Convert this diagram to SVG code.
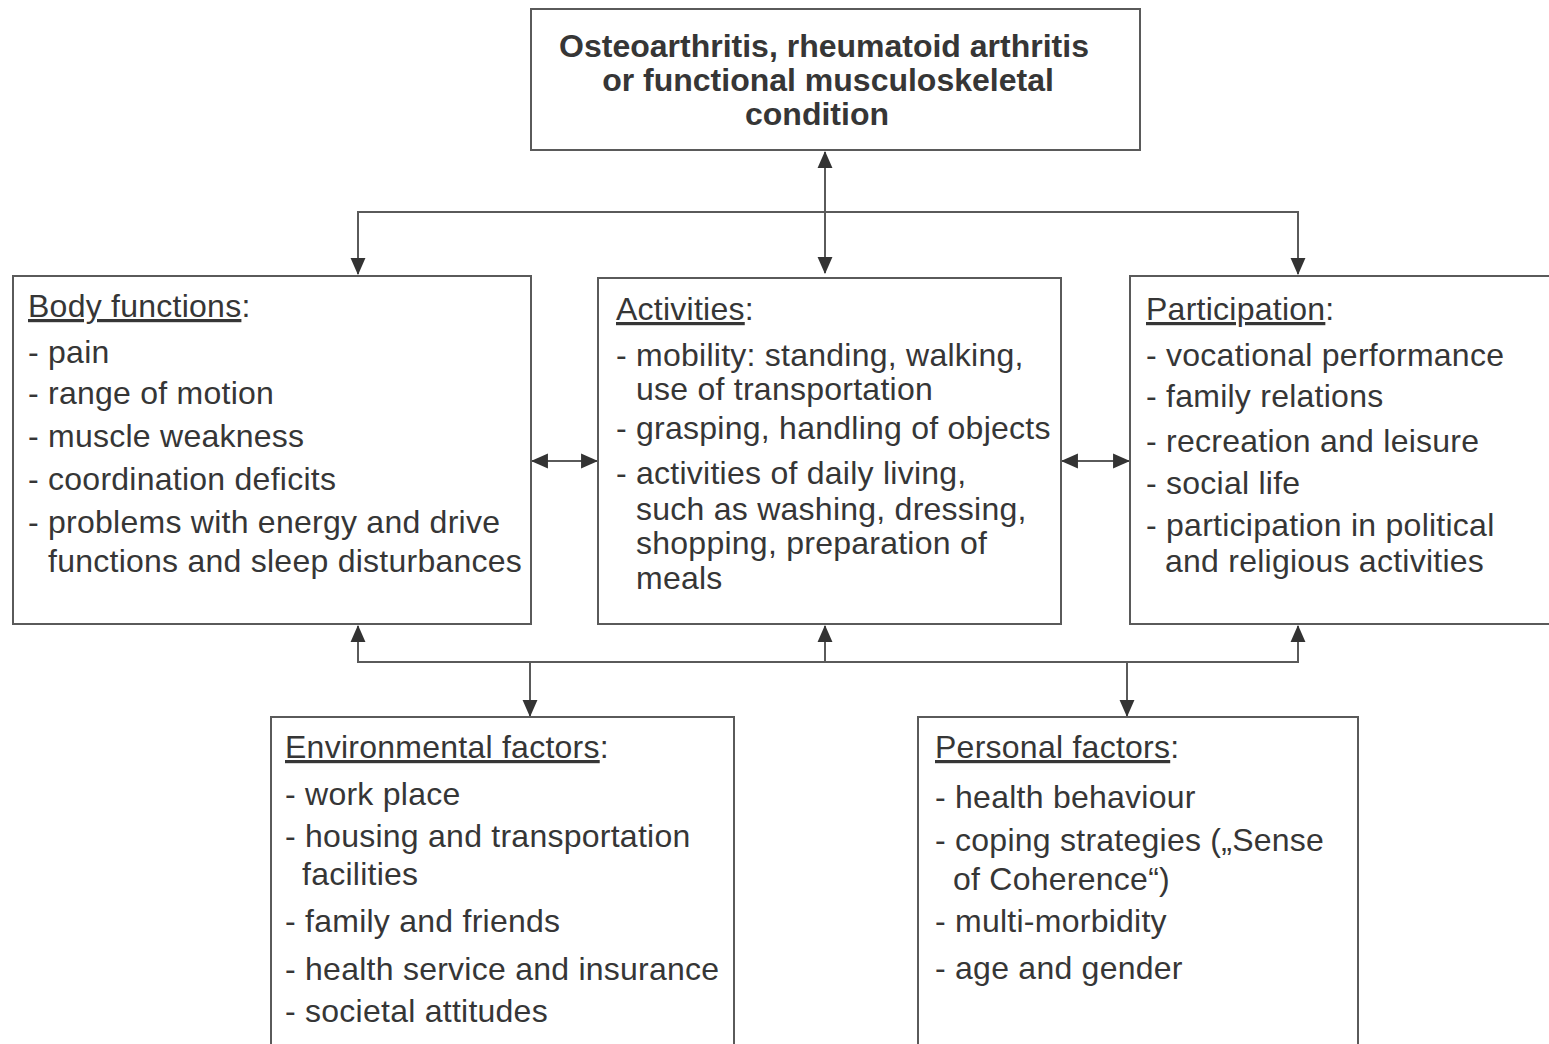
<svg xmlns="http://www.w3.org/2000/svg" width="1549" height="1044" viewBox="0 0 1549 1044">
<style>
.box{fill:#fff;stroke:#5a5a5a;stroke-width:2}
.t{font-family:"Liberation Sans",Arial,sans-serif;font-size:32px;letter-spacing:0.25px;fill:#363636}
.title{font-family:"Liberation Sans",Arial,sans-serif;font-size:32px;font-weight:bold;fill:#363636;text-anchor:middle}
.u{text-decoration:underline}
.c{fill:none;stroke:#5a5a5a;stroke-width:2}
</style>
<defs>
<marker id="ah" viewBox="0 0 16 16" refX="15" refY="8" markerWidth="17" markerHeight="17" markerUnits="userSpaceOnUse" orient="auto-start-reverse">
<path d="M0,1 L16,8 L0,15 Z" fill="#333"/>
</marker>
</defs>
<rect width="1549" height="1044" fill="#fff"/>

<g id="connectors">
<line class="c" x1="825" y1="152" x2="825" y2="273" marker-start="url(#ah)" marker-end="url(#ah)"/>
<polyline class="c" points="358,274 358,212 1298,212 1298,274" marker-start="url(#ah)" marker-end="url(#ah)"/>
<line class="c" x1="532" y1="461" x2="597" y2="461" marker-start="url(#ah)" marker-end="url(#ah)"/>
<line class="c" x1="1062" y1="461" x2="1129" y2="461" marker-start="url(#ah)" marker-end="url(#ah)"/>
<polyline class="c" points="358,626 358,662 1298,662 1298,626" marker-start="url(#ah)" marker-end="url(#ah)"/>
<line class="c" x1="825" y1="662" x2="825" y2="626" marker-end="url(#ah)"/>
<line class="c" x1="530" y1="662" x2="530" y2="716" marker-end="url(#ah)"/>
<line class="c" x1="1127" y1="662" x2="1127" y2="716" marker-end="url(#ah)"/>
</g>

<g id="condition">
<rect class="box" x="531" y="9" width="609" height="141"/>
<text class="title" x="824" y="57">Osteoarthritis, rheumatoid arthritis</text>
<text class="title" x="828" y="91">or functional musculoskeletal</text>
<text class="title" x="817" y="125">condition</text>
</g>

<g id="body-functions">
<rect class="box" x="13" y="276" width="518" height="348"/>
<text class="t" x="28" y="317"><tspan class="u">Body functions</tspan>:</text>
<text class="t" x="28" y="363">- pain</text>
<text class="t" x="28" y="404">- range of motion</text>
<text class="t" x="28" y="447">- muscle weakness</text>
<text class="t" x="28" y="490">- coordination deficits</text>
<text class="t" x="28" y="533">- problems with energy and drive</text>
<text class="t" x="48" y="572">functions and sleep disturbances</text>
</g>

<g id="activities">
<rect class="box" x="598" y="278" width="463" height="346"/>
<text class="t" x="616" y="320"><tspan class="u">Activities</tspan>:</text>
<text class="t" x="616" y="366">- mobility: standing, walking,</text>
<text class="t" x="636" y="400">use of transportation</text>
<text class="t" x="616" y="439">- grasping, handling of objects</text>
<text class="t" x="616" y="484">- activities of daily living,</text>
<text class="t" x="636" y="520">such as washing, dressing,</text>
<text class="t" x="636" y="554">shopping, preparation of</text>
<text class="t" x="636" y="589">meals</text>
</g>

<g id="participation">
<rect class="box" x="1130" y="276" width="430" height="348"/>
<text class="t" x="1146" y="320"><tspan class="u">Participation</tspan>:</text>
<text class="t" x="1146" y="366">- vocational performance</text>
<text class="t" x="1146" y="407">- family relations</text>
<text class="t" x="1146" y="452">- recreation and leisure</text>
<text class="t" x="1146" y="494">- social life</text>
<text class="t" x="1146" y="536">- participation in political</text>
<text class="t" x="1165" y="572">and religious activities</text>
</g>

<g id="environmental-factors">
<rect class="box" x="271" y="717" width="463" height="340"/>
<text class="t" x="285" y="758"><tspan class="u">Environmental factors</tspan>:</text>
<text class="t" x="285" y="805">- work place</text>
<text class="t" x="285" y="847">- housing and transportation</text>
<text class="t" x="302" y="885">facilities</text>
<text class="t" x="285" y="932">- family and friends</text>
<text class="t" x="285" y="980">- health service and insurance</text>
<text class="t" x="285" y="1022">- societal attitudes</text>
</g>

<g id="personal-factors">
<rect class="box" x="918" y="717" width="440" height="340"/>
<text class="t" x="935" y="758"><tspan class="u">Personal factors</tspan>:</text>
<text class="t" x="935" y="808">- health behaviour</text>
<text class="t" x="935" y="851">- coping strategies („Sense</text>
<text class="t" x="953" y="890">of Coherence“)</text>
<text class="t" x="935" y="932">- multi-morbidity</text>
<text class="t" x="935" y="979">- age and gender</text>
</g>
</svg>
